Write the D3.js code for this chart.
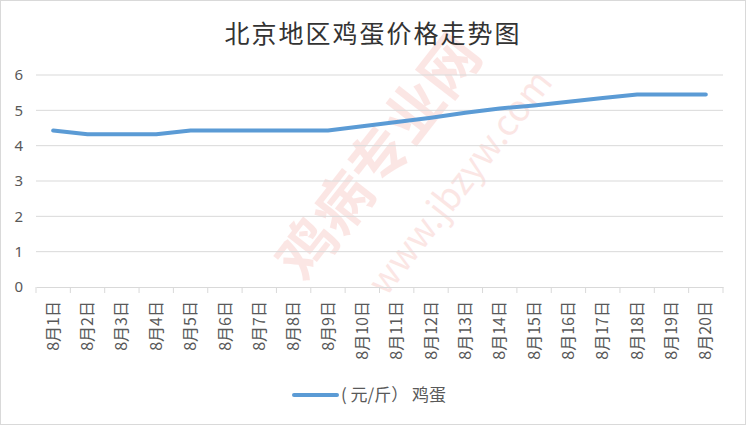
<!DOCTYPE html>
<html>
<head>
<meta charset="utf-8">
<script src="https://cdn.jsdelivr.net/npm/d3@7"></script>
<style>
  body { margin: 0; background: #fff; }
  text { font-family: "Noto Sans CJK SC", "Microsoft YaHei", sans-serif; }
</style>
</head>
<body>
<div id="chart"></div>
<script>
const width = 746;
const height = 425;

// data
const days = ["8月1日", "8月2日", "8月3日", "8月4日", "8月5日", "8月6日", "8月7日", "8月8日", "8月9日", "8月10日",
    "8月11日", "8月12日", "8月13日", "8月14日", "8月15日", "8月16日", "8月17日", "8月18日", "8月19日", "8月20日"];
const prices = [4.43, 4.32, 4.32, 4.32, 4.43, 4.43, 4.43, 4.43, 4.43, 4.55,
    4.67, 4.79, 4.93, 5.05, 5.14, 5.24, 5.35, 5.45, 5.45, 5.45];
const yTicks = [0, 1, 2, 3, 4, 5, 6];
const title = "北京地区鸡蛋价格走势图";
const seriesName = "( 元/斤） 鸡蛋";

const plot = { left: 36, right: 723, top: 75, bottom: 287 };

const svg = d3.select("#chart").append("svg")
    .attr("width", width)
    .attr("height", height);

// chart border
svg.append("rect")
    .attr("x", 0.5).attr("y", 0.5)
    .attr("width", width - 1).attr("height", height - 1)
    .attr("fill", "#fff")
    .attr("stroke", "#d9d9d9");

// faint watermark
const wm = svg.append("g").attr("opacity", 0.13);
wm.append("text")
    .attr("transform", "translate(395,170) rotate(-52)")
    .attr("text-anchor", "middle")
    .attr("font-size", 58)
    .attr("font-weight", "bold")
    .attr("fill", "#e8443a")
    .text("鸡病专业网");
wm.append("text")
    .attr("transform", "translate(470,190) rotate(-52)")
    .attr("text-anchor", "middle")
    .attr("font-size", 36)
    .attr("fill", "#e8443a")
    .text("www.jbzyw.com");

const x = d3.scaleBand()
    .domain(days)
    .range([plot.left, plot.right]);

const y = d3.scaleLinear()
    .domain([0, 6])
    .range([plot.bottom, plot.top]);

// title
svg.append("text")
    .attr("x", width / 2)
    .attr("y", 43)
    .attr("text-anchor", "middle")
    .attr("font-size", 25)
    .attr("letter-spacing", 2)
    .attr("fill", "#333")
    .text(title);

// gridlines
svg.append("g")
    .selectAll("line")
    .data(yTicks.filter(d => d > 0))
    .enter().append("line")
    .attr("x1", plot.left)
    .attr("x2", plot.right)
    .attr("y1", d => y(d))
    .attr("y2", d => y(d))
    .attr("stroke", "#d9d9d9")
    .attr("stroke-width", 1);

// y axis labels
const yAxis = svg.append("g")
    .attr("transform", `translate(${plot.left},0)`)
    .call(d3.axisLeft(y).tickValues(yTicks).tickFormat(d3.format("d")).tickSize(0).tickPadding(13));
yAxis.select(".domain").remove();
yAxis.selectAll("text")
    .attr("font-size", 15)
    .attr("fill", "#595959")
    .style("font-family", "'Noto Sans', sans-serif");

// x axis
const xAxis = svg.append("g")
    .attr("transform", `translate(0,${plot.bottom})`)
    .call(d3.axisBottom(x).tickSizeOuter(0).tickSize(0));
xAxis.select(".domain").attr("stroke", "#d9d9d9");
xAxis.selectAll(".tick line").remove();
xAxis.selectAll(".tick text")
    .attr("font-size", 16)
    .attr("fill", "#595959")
    .attr("text-anchor", "end")
    .attr("dy", "0.35em")
    .attr("transform", "translate(0,14) rotate(-90)")
    .attr("x", 0)
    .attr("y", 0);

// category separator ticks
svg.append("g")
    .selectAll("line")
    .data(d3.range(days.length + 1))
    .enter().append("line")
    .attr("x1", i => plot.left + i * x.step())
    .attr("x2", i => plot.left + i * x.step())
    .attr("y1", plot.bottom)
    .attr("y2", plot.bottom + 6)
    .attr("stroke", "#d9d9d9");

// price line
const line = d3.line()
    .x((d, i) => x(days[i]) + x.bandwidth() / 2)
    .y(d => y(d));

svg.append("path")
    .datum(prices)
    .attr("d", line)
    .attr("fill", "none")
    .attr("stroke", "#5b9bd5")
    .attr("stroke-width", 4)
    .attr("stroke-linecap", "round")
    .attr("stroke-linejoin", "round");

// legend
const legend = svg.append("g").attr("transform", "translate(294,395)");
legend.append("line")
    .attr("x1", 0).attr("x2", 43)
    .attr("y1", 0).attr("y2", 0)
    .attr("stroke", "#5b9bd5")
    .attr("stroke-width", 4)
    .attr("stroke-linecap", "round");
legend.append("text")
    .attr("x", 47)
    .attr("y", 0)
    .attr("dy", "0.35em")
    .attr("font-size", 17)
    .attr("fill", "#595959")
    .text(seriesName);
</script>
</body>
</html>
